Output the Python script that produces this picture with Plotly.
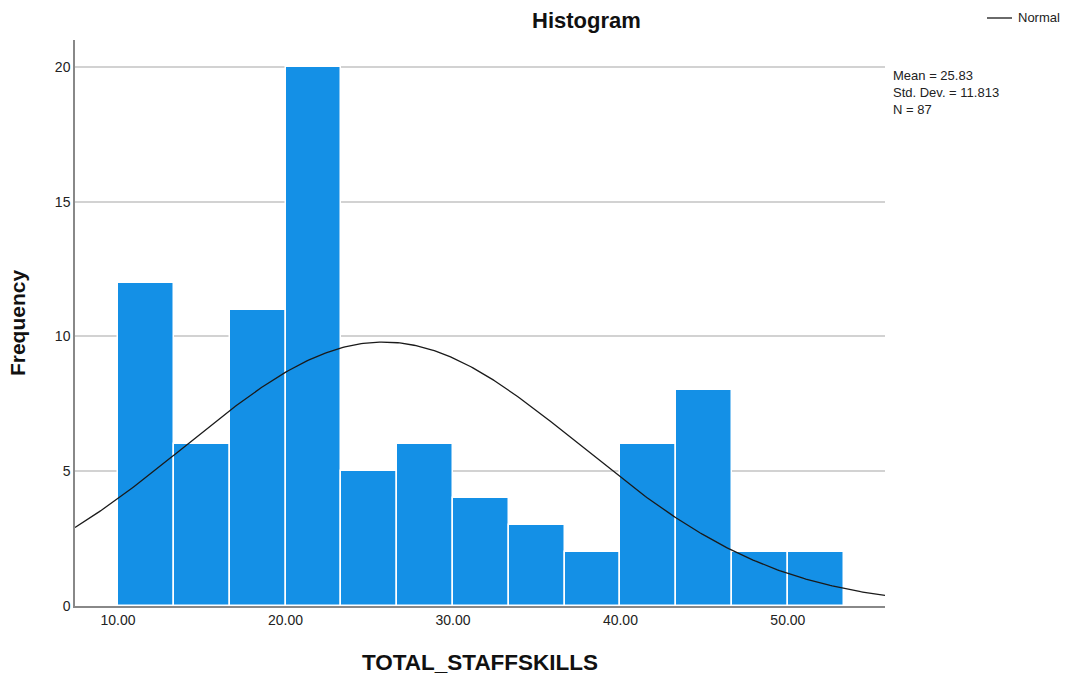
import numpy as np
import plotly.graph_objects as go

# Histogram of TOTAL_STAFFSKILLS: 13 bins starting at 10.00, width 10/3
bin_start = 10.0
bin_width = 10.0 / 3.0
counts = [12, 6, 11, 20, 5, 6, 4, 3, 2, 6, 8, 2, 2]

mean_val = 25.83
sd_val = 11.813
n_val = 87

x_ticks = [10, 20, 30, 40, 50]
x_tick_text = ["10.00", "20.00", "30.00", "40.00", "50.00"]
y_ticks = [0, 5, 10, 15, 20]

centers = [bin_start + bin_width * (i + 0.5) for i in range(len(counts))]

x_range = [7.43, 55.8]
xs = np.linspace(x_range[0], x_range[1], 400)
normal_y = n_val * bin_width / (sd_val * np.sqrt(2 * np.pi)) * np.exp(-0.5 * ((xs - mean_val) / sd_val) ** 2)

font_family = "Liberation Sans, Arial, sans-serif"

# plot area in pixels
L, R, T, B = 75, 885, 40, 606
W, H = R - L, B - T


def px(x):
    return (x - L) / W


def py(y):
    return (B - y) / H


fig = go.Figure()
fig.add_trace(go.Bar(
    x=centers, y=counts, width=bin_width,
    marker=dict(color="#1490E6", line=dict(color="white", width=1.5)),
    showlegend=False, hoverinfo="x+y",
))
fig.add_trace(go.Scatter(
    x=xs, y=normal_y, mode="lines", name="Normal", showlegend=False,
    line=dict(color="#1a1a1a", width=1.3),
))

fig.update_layout(
    width=1069, height=682,
    margin=dict(l=L, r=1069 - R, t=T, b=682 - B, autoexpand=False),
    plot_bgcolor="white", paper_bgcolor="white",
    font=dict(family=font_family, size=13, color="#222"),
    bargap=0,
    showlegend=False,
    xaxis=dict(
        range=x_range, tickvals=x_ticks, ticktext=x_tick_text,
        showgrid=False, zeroline=False, showline=True,
        linecolor="#888", linewidth=1.5, ticks="", ticklen=0,
        tickfont=dict(size=14, color="#222"),
        title=dict(text="<b>TOTAL_STAFFSKILLS</b>", font=dict(size=22.5, color="#111"), standoff=28),
    ),
    yaxis=dict(
        range=[0, 21], tickvals=y_ticks,
        showgrid=True, gridcolor="#d2d2d2", gridwidth=1.5,
        zeroline=False, showline=True, linecolor="#888", linewidth=1.5,
        ticks="", tickfont=dict(size=14, color="#222"),
        title=dict(text="<b>Frequency</b>", font=dict(size=21, color="#111"), standoff=24),
    ),
    shapes=[
        dict(type="line", xref="paper", yref="paper",
             x0=px(987), x1=px(1012), y0=py(18), y1=py(18),
             line=dict(color="#1a1a1a", width=1.3)),
    ],
    annotations=[
        dict(text="<b>Histogram</b>", x=px(586), y=py(21), xref="paper", yref="paper",
             xanchor="center", yanchor="middle", showarrow=False,
             font=dict(size=22, color="#111")),
        dict(text="Normal", x=px(1016), y=py(18), xref="paper", yref="paper",
             xanchor="left", yanchor="middle", showarrow=False,
             font=dict(size=13, color="#222")),
        dict(text=f"Mean = {mean_val:.2f}<br>Std. Dev. = {sd_val:.3f}<br>N = {n_val}",
             x=px(891), y=py(66), xref="paper", yref="paper",
             xanchor="left", yanchor="top", align="left", showarrow=False,
             font=dict(size=13, color="#222")),
    ],
)

fig.write_html("out.html")
